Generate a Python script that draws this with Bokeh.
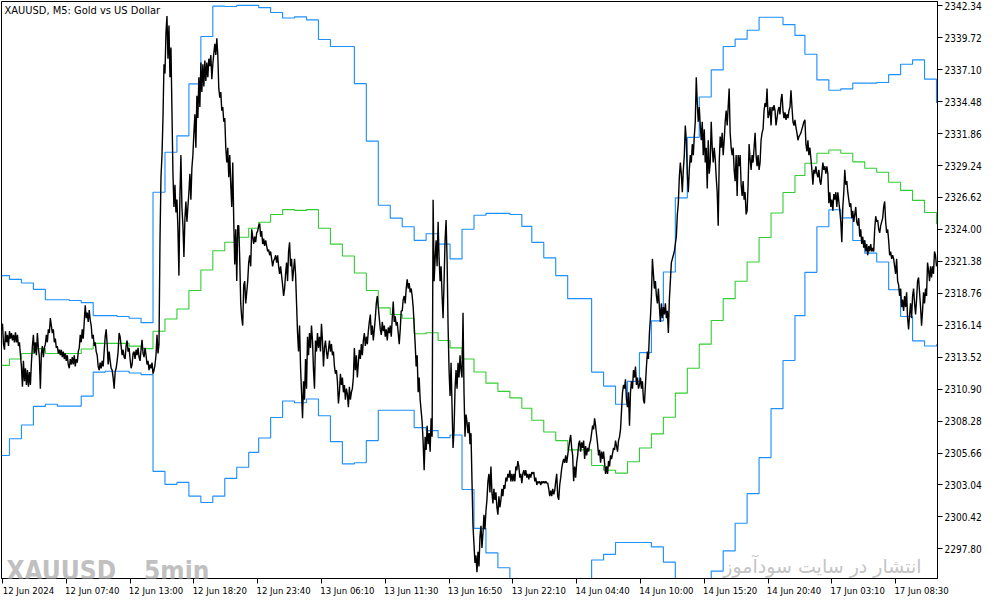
from bokeh.plotting import figure
from bokeh.models import Range1d, FixedTicker, PrintfTickFormatter, Label, LinearAxis
from bokeh.embed import file_html
from bokeh.resources import INLINE

# ---------------- data ----------------
# M5 close prices, one per bar
close = [
    2316.11, 2316.26, 2314.59, 2314.13, 2315.65, 2314.74, 2315.35, 2314.44, 2315.65, 2315.04,
    2315.50, 2314.89, 2315.35, 2314.74, 2315.56, 2314.74, 2315.35, 2314.44, 2314.74, 2313.68,
    2312.76, 2311.09, 2313.22, 2311.55, 2312.61, 2311.24, 2312.46, 2311.09, 2312.31, 2311.24,
    2313.07, 2314.44, 2315.35, 2313.83, 2314.74, 2313.68, 2315.50, 2314.28, 2313.52, 2310.94,
    2313.83, 2314.44, 2313.52, 2314.28, 2314.59, 2315.35, 2314.74, 2315.80, 2315.50, 2316.72,
    2316.11, 2315.50, 2315.80, 2314.74, 2315.04, 2314.28, 2314.44, 2313.83, 2314.13, 2313.68,
    2314.13, 2313.52, 2313.98, 2313.37, 2313.83, 2313.22, 2313.68, 2312.92, 2312.61, 2313.37,
    2312.92, 2313.52, 2312.92, 2313.68, 2312.76, 2313.37, 2313.07, 2313.98, 2314.28, 2315.35,
    2314.74, 2315.80, 2315.04, 2316.41, 2317.78, 2316.72, 2317.17, 2316.41, 2317.39, 2316.56,
    2316.11, 2315.04, 2315.35, 2314.44, 2314.74, 2313.98, 2313.68, 2312.76, 2312.46, 2313.07,
    2312.61, 2313.22, 2312.76, 2313.98, 2315.20, 2315.80, 2314.59, 2312.92, 2313.98, 2313.22,
    2312.61, 2312.46, 2311.85, 2310.94, 2312.31, 2312.61, 2313.22, 2313.98, 2315.50, 2315.20,
    2314.44, 2313.68, 2314.13, 2313.52, 2313.37, 2314.44, 2314.89, 2313.98, 2314.28, 2313.37,
    2312.61, 2312.92, 2313.83, 2313.98, 2313.37, 2314.13, 2313.68, 2314.28, 2313.52, 2313.22,
    2314.13, 2314.95, 2313.83, 2313.52, 2314.28, 2313.68, 2312.92, 2313.22, 2312.46, 2312.92,
    2312.61, 2313.07, 2312.16, 2312.46, 2312.92, 2313.68, 2315.35, 2313.83, 2314.59, 2323.10,
    2328.27, 2330.09, 2333.13, 2337.54, 2336.78, 2340.12, 2341.49, 2338.00, 2340.73, 2336.48,
    2338.91, 2333.74, 2328.57, 2325.84, 2327.66, 2325.38, 2326.44, 2324.01, 2320.21, 2326.75,
    2330.09, 2325.84, 2324.31, 2321.73, 2324.92, 2326.29, 2324.62, 2325.84, 2327.05, 2328.57,
    2326.44, 2329.03, 2330.09, 2331.92, 2333.44, 2330.70, 2334.96, 2333.13, 2336.48, 2334.04,
    2337.69, 2335.26, 2337.54, 2335.72, 2337.84, 2336.17, 2337.69, 2336.48, 2338.00, 2337.39,
    2338.30, 2336.32, 2337.54, 2338.45, 2339.21, 2338.30, 2339.67, 2338.30, 2335.56, 2334.80,
    2335.26, 2333.74, 2334.04, 2332.83, 2333.13, 2330.70, 2329.48, 2330.70, 2328.27, 2330.09,
    2327.66, 2325.84, 2329.48, 2324.62, 2321.12, 2324.01, 2319.76, 2324.31, 2324.31, 2321.58,
    2317.93, 2316.72, 2316.11, 2319.45, 2319.76, 2317.93, 2318.84, 2319.76, 2321.28, 2321.88,
    2320.97, 2324.01, 2323.40, 2322.80, 2323.40, 2322.95, 2323.71, 2323.86, 2324.31, 2324.47,
    2323.40, 2323.86, 2322.80, 2323.25, 2322.64, 2323.10, 2322.64, 2322.19, 2322.34, 2321.88,
    2322.19, 2321.58, 2320.97, 2321.43, 2321.58, 2321.88, 2321.28, 2321.88, 2320.97, 2320.36,
    2320.97, 2320.21, 2319.45, 2318.54, 2319.15, 2320.36, 2321.28, 2319.76, 2322.19, 2322.95,
    2320.97, 2321.58, 2319.76, 2320.67, 2321.58, 2320.36, 2317.93, 2315.50, 2313.98, 2316.11,
    2312.76, 2310.64, 2308.51, 2311.55, 2310.03, 2313.37, 2310.94, 2315.20, 2313.68, 2315.50,
    2314.28, 2316.11, 2314.89, 2312.46, 2310.94, 2314.89, 2313.98, 2315.50, 2314.28, 2315.20,
    2313.98, 2316.26, 2314.89, 2312.76, 2314.28, 2314.89, 2313.98, 2313.37, 2314.13, 2314.89,
    2313.98, 2314.59, 2313.68, 2313.98, 2312.76, 2312.16, 2312.46, 2311.55, 2309.72, 2310.64,
    2312.16, 2311.24, 2311.85, 2310.64, 2311.24, 2310.03, 2310.94, 2310.48, 2309.42, 2311.09,
    2310.03, 2310.64, 2310.94, 2311.85, 2314.28, 2312.46, 2313.68, 2311.85, 2313.07, 2314.13,
    2313.37, 2314.59, 2313.68, 2314.89, 2315.50, 2314.44, 2315.20, 2314.59, 2315.65, 2316.41,
    2317.02, 2315.35, 2316.11, 2314.89, 2315.80, 2316.72, 2317.93, 2318.54, 2317.63, 2316.72,
    2315.80, 2315.35, 2316.41, 2315.65, 2316.11, 2315.20, 2315.80, 2314.89, 2315.96, 2315.50,
    2316.11, 2315.20, 2316.72, 2318.08, 2316.41, 2316.87, 2316.11, 2316.41, 2315.50, 2314.59,
    2315.80, 2317.32, 2317.32, 2318.24, 2318.54, 2317.93, 2319.15, 2319.91, 2319.15, 2319.60,
    2318.84, 2319.15, 2318.54, 2317.63, 2316.11, 2314.59, 2312.76, 2313.68, 2310.64, 2311.85,
    2310.03, 2309.12, 2308.20, 2306.53, 2304.25, 2306.99, 2305.92, 2307.90, 2306.38, 2307.29,
    2305.77, 2308.51, 2306.99, 2326.44, 2319.76, 2321.58, 2323.10, 2320.97, 2324.62, 2321.58,
    2319.76, 2320.97, 2318.54, 2316.72, 2319.76, 2323.10, 2324.77, 2321.58, 2316.11, 2312.46,
    2310.33, 2313.07, 2309.42, 2306.08, 2307.60, 2310.94, 2312.46, 2310.94, 2313.07, 2311.85,
    2313.68, 2312.46, 2311.85, 2317.17, 2310.64, 2306.99, 2308.81, 2308.20, 2307.29, 2308.20,
    2306.38, 2307.29, 2303.34, 2299.70, 2298.17, 2296.65, 2297.26, 2295.89, 2297.56, 2296.35,
    2298.78, 2299.70, 2297.87, 2299.08, 2300.60, 2299.39, 2300.91, 2301.82, 2303.34, 2303.95,
    2302.43, 2304.56, 2302.43, 2301.52, 2302.73, 2301.82, 2302.43, 2301.21, 2300.60, 2302.12,
    2301.21, 2301.82, 2302.73, 2302.12, 2303.04, 2302.73, 2303.64, 2303.34, 2303.95, 2303.64,
    2304.25, 2303.34, 2303.95, 2303.34, 2303.95, 2303.34, 2304.56, 2304.25, 2305.01, 2304.56,
    2303.64, 2303.95, 2303.19, 2303.95, 2304.25, 2303.80, 2304.25, 2303.64, 2303.95, 2303.49,
    2303.95, 2303.64, 2304.10, 2303.95, 2304.10, 2303.34, 2303.64, 2303.04, 2303.34, 2303.19,
    2303.34, 2303.04, 2303.34, 2303.19, 2303.34, 2303.19, 2303.34, 2303.19, 2303.19, 2302.73,
    2302.12, 2302.58, 2302.12, 2302.73, 2302.27, 2302.58, 2303.34, 2303.95, 2302.12, 2301.82,
    2303.04, 2303.64, 2304.40, 2304.86, 2305.17, 2304.86, 2305.47, 2304.86, 2305.47, 2306.08,
    2306.68, 2307.14, 2306.08, 2305.47, 2303.34, 2304.56, 2303.64, 2304.86, 2305.47, 2306.38,
    2306.68, 2305.77, 2306.53, 2306.08, 2306.68, 2305.17, 2306.23, 2305.47, 2306.08, 2305.77,
    2306.38, 2306.68, 2307.29, 2307.90, 2307.60, 2308.51, 2307.90, 2307.14, 2306.38, 2305.47,
    2305.92, 2304.86, 2305.77, 2305.17, 2305.77, 2304.86, 2303.95, 2304.56, 2303.95, 2305.01,
    2304.56, 2305.47, 2305.17, 2305.62, 2306.08, 2305.92, 2306.68, 2306.23, 2305.77, 2306.68,
    2306.99, 2307.60, 2309.12, 2310.64, 2311.24, 2310.94, 2311.70, 2310.03, 2309.42, 2310.64,
    2307.90, 2310.64, 2311.55, 2310.94, 2312.46, 2311.85, 2312.76, 2311.24, 2311.85, 2310.94,
    2311.24, 2311.85, 2310.94, 2311.55, 2310.03, 2309.72, 2311.24, 2312.76, 2313.98, 2313.37,
    2315.50, 2316.72, 2318.54, 2321.58, 2320.36, 2319.15, 2319.76, 2318.54, 2317.93, 2319.15,
    2317.63, 2316.41, 2317.93, 2316.72, 2317.63, 2317.02, 2317.93, 2316.72, 2317.32, 2315.50,
    2318.24, 2319.76, 2321.28, 2321.58, 2321.88, 2322.19, 2322.80, 2323.40, 2325.23, 2326.14,
    2328.27, 2329.48, 2328.57, 2327.05, 2328.88, 2330.09, 2332.52, 2331.31, 2328.57, 2327.05,
    2328.88, 2330.09, 2329.48, 2330.99, 2330.09, 2331.61, 2332.83, 2336.48, 2334.35, 2332.83,
    2334.04, 2332.52, 2331.31, 2332.83, 2330.09, 2332.22, 2329.48, 2330.70, 2327.35, 2331.31,
    2328.57, 2329.48, 2332.83, 2330.70, 2329.48, 2330.70, 2329.79, 2328.27, 2327.05, 2324.31,
    2329.48, 2331.61, 2330.70, 2331.92, 2330.09, 2331.31, 2332.83, 2333.74, 2332.52, 2334.04,
    2335.56, 2331.92, 2330.70, 2330.09, 2330.70, 2328.88, 2327.96, 2330.09, 2326.75, 2330.09,
    2329.18, 2330.09, 2327.66, 2326.75, 2327.96, 2326.44, 2327.05, 2325.23, 2325.53, 2327.66,
    2331.00, 2329.79, 2328.88, 2330.09, 2329.48, 2330.70, 2331.92, 2330.09, 2329.18, 2330.09,
    2328.88, 2329.48, 2331.31, 2331.92, 2332.22, 2333.74, 2334.35, 2334.04, 2335.56, 2333.13,
    2333.44, 2334.04, 2332.52, 2334.04, 2333.74, 2334.20, 2333.74, 2332.52, 2333.13, 2333.74,
    2334.04, 2333.44, 2334.65, 2335.11, 2333.74, 2333.13, 2333.59, 2332.98, 2333.44, 2333.13,
    2333.74, 2334.04, 2335.41, 2334.04, 2332.83, 2332.52, 2332.98, 2332.37, 2331.92, 2331.31,
    2331.61, 2331.76, 2331.92, 2332.22, 2332.52, 2332.83, 2332.98, 2331.00, 2330.39, 2331.31,
    2330.09, 2330.70, 2329.79, 2328.88, 2327.66, 2328.88, 2328.57, 2329.18, 2328.57, 2328.27,
    2328.88, 2327.96, 2327.66, 2328.57, 2329.48, 2328.88, 2329.18, 2328.57, 2329.18, 2328.57,
    2326.14, 2327.05, 2325.84, 2326.44, 2325.53, 2326.90, 2326.44, 2327.05, 2325.84, 2327.05,
    2326.29, 2325.53, 2324.62, 2322.95, 2325.84, 2327.05, 2328.88, 2327.66, 2327.96, 2327.05,
    2326.44, 2325.84, 2326.14, 2324.92, 2325.53, 2324.62, 2325.23, 2325.84, 2324.62, 2324.31,
    2324.92, 2323.40, 2324.01, 2322.80, 2323.40, 2322.49, 2323.10, 2322.19, 2322.80, 2321.88,
    2322.64, 2322.19, 2322.80, 2322.19, 2322.49, 2322.19, 2324.01, 2325.08, 2324.62, 2324.77,
    2324.01, 2323.71, 2324.31, 2324.62, 2324.92, 2325.84, 2326.29, 2324.62, 2323.71, 2324.01,
    2323.10, 2321.88, 2322.19, 2321.58, 2321.88, 2321.58, 2320.97, 2320.36, 2321.58, 2319.76,
    2319.45, 2318.54, 2319.15, 2317.63, 2318.24, 2317.32, 2318.54, 2317.63, 2318.84, 2316.72,
    2315.80, 2317.02, 2317.93, 2316.72, 2318.54, 2319.15, 2317.93, 2317.02, 2318.24, 2319.76,
    2320.06, 2318.84, 2317.63, 2316.11, 2317.32, 2318.84, 2317.93, 2319.15, 2318.54, 2321.28,
    2320.67, 2319.76, 2320.97, 2320.06, 2320.97, 2320.36, 2322.19, 2321.88, 2320.97,
]

# hourly band values (upper / middle / lower), one per hour step
band_upper = [
    2320.21, 2319.90, 2319.60, 2319.08, 2318.23, 2318.23, 2318.17, 2317.99, 2316.93, 2316.93,
    2316.86, 2316.71, 2316.35, 2327.05, 2330.33, 2331.67, 2335.93, 2339.82, 2342.31, 2342.28,
    2342.37, 2342.37, 2342.19, 2341.79, 2341.34, 2341.43, 2341.18, 2339.57, 2339.00, 2339.00,
    2335.96, 2331.24, 2325.98, 2324.92, 2324.22, 2323.10, 2323.64, 2322.79, 2321.58, 2324.01,
    2325.16, 2325.32, 2325.32, 2325.22, 2324.25, 2322.94, 2321.67, 2320.21, 2318.32, 2318.32,
    2312.30, 2311.15, 2309.66, 2311.54, 2313.89, 2316.50, 2320.51, 2326.59, 2331.55, 2334.86,
    2337.08, 2339.00, 2339.60, 2340.33, 2341.40, 2341.40, 2340.79, 2339.91, 2338.36, 2336.26,
    2335.41, 2335.53, 2335.99, 2335.99, 2336.05, 2336.69, 2337.54, 2337.90, 2336.32, 2334.41,
]
band_middle = [
    2312.85, 2313.37, 2313.82, 2314.22, 2313.82, 2313.82, 2313.82, 2314.19, 2314.65, 2314.65,
    2314.65, 2314.43, 2314.22, 2315.65, 2316.65, 2317.47, 2318.99, 2320.67, 2322.25, 2322.94,
    2323.35, 2324.10, 2324.59, 2325.22, 2325.62, 2325.56, 2325.62, 2324.10, 2322.79, 2321.82,
    2320.42, 2318.99, 2317.56, 2317.02, 2316.71, 2315.44, 2315.53, 2314.89, 2314.28, 2313.37,
    2312.30, 2311.39, 2310.72, 2310.18, 2309.33, 2308.35, 2307.38, 2306.68, 2305.92, 2305.92,
    2304.64, 2304.25, 2304.01, 2304.95, 2306.07, 2307.23, 2308.60, 2310.57, 2312.61, 2314.59,
    2316.53, 2318.32, 2319.75, 2321.33, 2323.34, 2325.35, 2327.02, 2328.42, 2329.42, 2330.24,
    2330.51, 2330.24, 2329.54, 2329.02, 2328.69, 2327.87, 2327.20, 2326.38, 2325.38, 2324.47,
]
band_lower = [
    2305.46, 2306.83, 2307.96, 2309.48, 2309.66, 2309.51, 2309.51, 2310.33, 2312.30, 2312.37,
    2312.37, 2312.22, 2312.09, 2304.16, 2303.09, 2303.25, 2302.12, 2301.60, 2302.12, 2303.58,
    2304.49, 2305.71, 2306.89, 2308.57, 2309.93, 2309.78, 2310.09, 2308.72, 2306.59, 2304.77,
    2304.86, 2306.68, 2309.17, 2309.17, 2309.17, 2307.74, 2307.50, 2306.92, 2307.14, 2302.67,
    2299.48, 2297.47, 2296.25, 2295.14, 2294.41, 2293.76, 2293.09, 2293.15, 2293.52, 2293.52,
    2296.89, 2297.35, 2298.32, 2298.32, 2298.32, 2297.96, 2296.71, 2294.55, 2293.67, 2294.32,
    2295.98, 2297.64, 2299.90, 2302.33, 2305.28, 2309.30, 2313.25, 2316.93, 2320.48, 2324.22,
    2325.61, 2324.95, 2323.09, 2322.05, 2321.33, 2319.05, 2316.86, 2314.86, 2314.44, 2314.53,
]

# trading sessions: bar of the first full hour and number of hour steps per day
session_first_hour_bar = [8, 258, 532, 806]
session_hour_count = [21, 23, 23, 12]
bars_per_hour = 12

price_ticks = [2342.34, 2339.72, 2337.10, 2334.48, 2331.86, 2329.24, 2326.62, 2324.00,
               2321.38, 2318.76, 2316.14, 2313.52, 2310.90, 2308.28, 2305.66, 2303.04,
               2300.42, 2297.80]
time_labels = ["12 Jun 2024", "12 Jun 07:40", "12 Jun 13:00", "12 Jun 18:20", "12 Jun 23:40",
               "13 Jun 06:10", "13 Jun 11:30", "13 Jun 16:50", "13 Jun 22:10", "14 Jun 04:40",
               "14 Jun 10:00", "14 Jun 15:20", "14 Jun 20:40", "17 Jun 03:10", "17 Jun 08:30"]
bars_per_time_label = 64
first_label_bar = 1

title_text = "XAUUSD, M5:  Gold vs US Dollar"
wm_left = "XAUUSD _ 5min"
wm_right = "انتشار در سایت سودآموز"

# ---------------- build ----------------
n_bars = len(close)
bars = list(range(n_bars))

hour_start = [0]
for first, cnt in zip(session_first_hour_bar, session_hour_count):
    hour_start += [first + bars_per_hour * k for k in range(cnt)]
step_x = hour_start + [n_bars]

tick_bars = [first_label_bar + bars_per_time_label * i for i in range(len(time_labels))]

AXFONT = "DejaVu Sans Condensed, DejaVu Sans"
Y0, Y1 = 2295.37, 2342.69
FRAME_H = 577
px_per_unit = FRAME_H / (Y1 - Y0)

p = figure(frame_width=936, frame_height=FRAME_H,
           x_range=Range1d(0, n_bars), y_range=Range1d(Y0, Y1),
           y_axis_location="right", toolbar_location=None, output_backend="svg",
           min_border_left=1, min_border_top=1, min_border_bottom=0, min_border_right=0)
p.grid.visible = False
p.outline_line_color = "black"
p.outline_line_width = 1
p.background_fill_color = "white"
p.border_fill_color = "white"

for ax in (p.xaxis[0], p.yaxis[0]):
    ax.axis_line_color = "black"
    ax.major_tick_line_color = "black"
    ax.major_tick_in = 0
    ax.major_tick_out = 5
    ax.minor_tick_line_color = None
    ax.major_label_text_font = AXFONT
    ax.major_label_text_font_size = "10px"
    ax.major_label_text_color = "black"
    ax.major_label_standoff = 2

# tick marks only on the first time axis
p.xaxis[0].ticker = FixedTicker(ticks=tick_bars)
p.xaxis[0].major_label_text_font_size = "0px"
p.xaxis[0].major_label_standoff = 0
p.xaxis[0].major_label_overrides = {b: "" for b in tick_bars}

# second time axis carries the labels, which start at their tick (left aligned)
label_half_width = 26
label_pos = [b + label_half_width for b in tick_bars]
lab_axis = LinearAxis(ticker=FixedTicker(ticks=label_pos),
                      major_label_overrides={c: t for c, t in zip(label_pos, time_labels)},
                      axis_line_color=None, major_tick_line_color=None,
                      minor_tick_line_color=None, major_tick_out=0, major_tick_in=0,
                      major_label_standoff=1, major_label_text_font=AXFONT,
                      major_label_text_font_size="9.5px", major_label_text_color="black")
p.add_layout(lab_axis, "below")

p.yaxis.ticker = FixedTicker(ticks=price_ticks)
p.yaxis.formatter = PrintfTickFormatter(format="%.2f")

p.step(step_x, band_upper + [band_upper[-1]], mode="after", line_color="#1E90FF", line_width=1.15)
p.step(step_x, band_lower + [band_lower[-1]], mode="after", line_color="#1E90FF", line_width=1.15)
p.step(step_x, band_middle + [band_middle[-1]], mode="after", line_color="#32CD32", line_width=1.1)
p.line(bars, close, line_color="black", line_width=1.4)

p.add_layout(Label(x=3, y=2342.45, text=title_text, text_baseline="top",
                   text_font=AXFONT, text_font_size="11px", text_color="black"))
p.add_layout(Label(x=5, y=Y0 + 7.5 / px_per_unit, text=wm_left, text_baseline="alphabetic",
                   text_font="DejaVu Sans Condensed, DejaVu Sans",
                   text_font_style="bold", text_font_size="26px", text_color="#C0C0C0"))
p.add_layout(Label(x=923, y=Y0 + 13 / px_per_unit, text=wm_right, text_align="right",
                   text_baseline="alphabetic", text_font="DejaVu Sans",
                   text_font_size="19px", text_color="#C4C4C4"))

open("out.html", "w").write(file_html(p, INLINE))
